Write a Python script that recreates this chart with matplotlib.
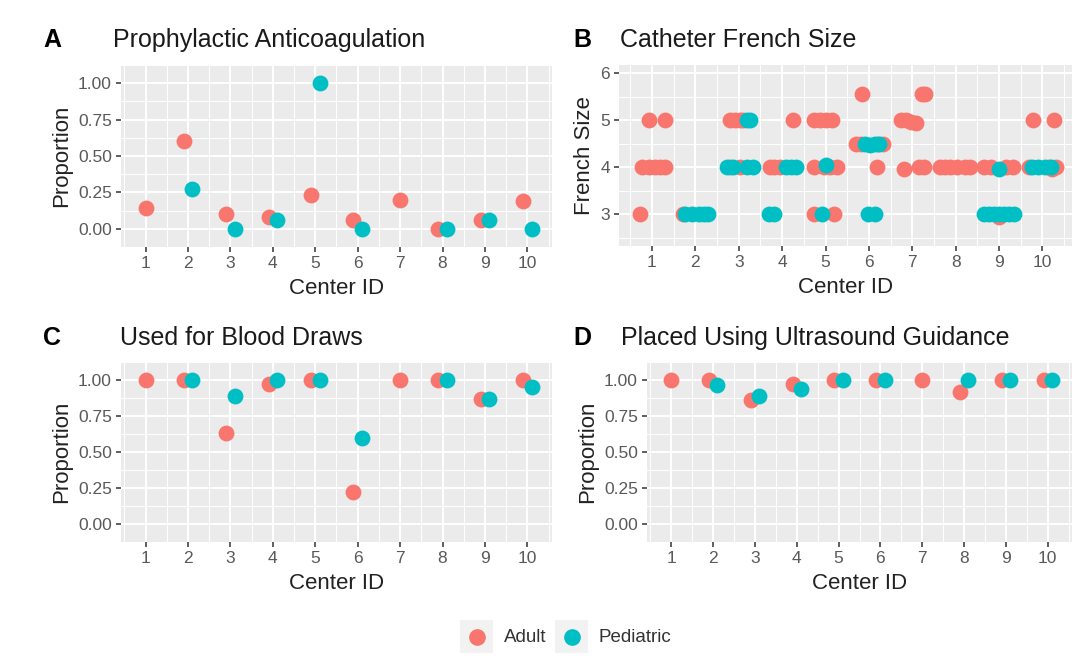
import numpy as np
import matplotlib.pyplot as plt
from matplotlib.patches import Rectangle

plt.rcParams['font.family'] = ['Liberation Sans', 'DejaVu Sans']

centers = [1, 2, 3, 4, 5, 6, 7, 8, 9, 10]
adult_col = '#F8766D'
ped_col = '#00BFC4'

# A: prophylactic anticoagulation (proportion per center, None = no data)
anticoag_adult = [0.14, 0.60, 0.10, 0.08, 0.23, 0.06, 0.20, 0.00, 0.06, 0.19]
anticoag_ped = [None, 0.27, 0.00, 0.06, 1.00, 0.00, None, 0.00, 0.06, 0.00]

# C: used for blood draws
blood_adult = [1.00, 1.00, 0.63, 0.97, 1.00, 0.22, 1.00, 1.00, 0.87, 1.00]
blood_ped = [None, 1.00, 0.89, 1.00, 1.00, 0.60, None, 1.00, 0.87, 0.95]

# D: placed using ultrasound guidance
us_adult = [1.00, 1.00, 0.86, 0.97, 1.00, 1.00, 1.00, 0.92, 1.00, 1.00]
us_ped = [None, 0.965, 0.89, 0.935, 1.00, 1.00, None, 1.00, 1.00, 1.00]

fr_adult_center = [1, 1, 1, 1, 1, 1, 1, 1,
                   2,
                   3, 3, 3, 3, 3, 3,
                   4, 4, 4, 4,
                   5, 5, 5, 5, 5, 5, 5, 5, 5, 5,
                   6, 6, 6, 6, 6, 6,
                   7, 7, 7, 7, 7, 7, 7, 7, 7,
                   8, 8, 8, 8, 8, 8,
                   9, 9, 9, 9, 9,
                   10, 10, 10, 10, 10, 10]
fr_adult_jit = [-0.06, 0.31, -0.23, -0.08, 0.08, 0.19, 0.31, -0.27,
                -0.28,
                -0.21, -0.09, 0.02, 0.10, -0.21, 0.02,
                0.24, -0.29, -0.18, -0.06,
                -0.27, -0.13, 0.00, 0.15, -0.27, -0.04, 0.11, 0.27, -0.27, 0.19,
                -0.15, -0.29, -0.18, 0.21, 0.32, 0.18,
                0.23, 0.30, -0.27, -0.15, -0.04, 0.08, -0.19, 0.15, 0.27,
                -0.36, -0.24, -0.13, 0.02, 0.21, 0.33,
                -0.34, -0.19, 0.15, 0.31, 0.00,
                -0.23, 0.27, -0.30, 0.15, 0.30, 0.22]
fr_adult_size = [5, 5, 4, 4, 4, 4, 4, 3,
                 3,
                 5, 5, 5, 5, 4, 4,
                 5, 4, 4, 4,
                 5, 5, 5, 5, 4, 4, 4, 4, 3, 3,
                 5.55, 4.5, 4.5, 4.5, 4.5, 4,
                 5.55, 5.55, 5, 5, 4.97, 4.95, 3.97, 4, 4,
                 4, 4, 4, 4, 4, 4,
                 4, 4, 4, 4, 2.95,
                 5, 5, 4, 4, 4, 3.97]

fr_ped_center = [2, 2, 2, 2, 2,
                 3, 3, 3, 3, 3, 3,
                 4, 4, 4, 4, 4,
                 5, 5,
                 6, 6, 6, 6, 6, 6,
                 9, 9, 9, 9, 9, 9, 9, 9,
                 10, 10, 10, 10]
fr_ped_jit = [-0.23, -0.08, 0.08, 0.19, 0.28,
              0.18, 0.25, -0.28, -0.13, 0.18, 0.33,
              0.09, 0.21, 0.32, -0.31, -0.18,
              -0.08, 0.00,
              -0.10, 0.02, 0.13, 0.24, -0.02, 0.13,
              0.00, -0.34, -0.23, -0.11, 0.00, 0.11, 0.23, 0.34,
              -0.25, -0.10, 0.05, 0.20]
fr_ped_size = [3, 3, 3, 3, 3,
               5, 5, 4, 4, 4, 4,
               4, 4, 4, 3, 3,
               3, 4.05,
               4.5, 4.47, 4.5, 4.5, 3, 3,
               3.97, 3, 3, 3, 3, 3, 3, 3,
               4, 4, 4, 4]

W, H = 1078, 658
fig = plt.figure(figsize=(W / 100, H / 100), dpi=100)


def px_box(l, t, r, b):
    return [l / W, 1 - b / H, (r - l) / W, (b - t) / H]


def style(ax, xlim, ylim, yticks, ylabels, yminor, ylabel):
    ax.set_facecolor('#EBEBEB')
    for s in ax.spines.values():
        s.set_visible(False)
    ax.set_xlim(*xlim)
    ax.set_ylim(*ylim)
    ax.set_xticks(centers)
    ax.set_xticklabels([str(c) for c in centers])
    ax.set_xticks([c + 0.5 for c in [0] + centers[:-1]] + [10.5], minor=True)
    ax.set_yticks(yticks)
    ax.set_yticklabels(ylabels)
    ax.set_yticks(yminor, minor=True)
    ax.grid(True, which='major', color='white', linewidth=1.4)
    ax.grid(True, which='minor', color='white', linewidth=0.7)
    ax.set_axisbelow(True)
    ax.tick_params(which='major', length=3.5, width=1.1, color='#333333',
                   labelcolor='#595959', labelsize=12.5, pad=3)
    ax.tick_params(which='minor', length=0)
    ax.set_xlabel('Center ID', fontsize=16, labelpad=5, color='#222222')
    ax.set_ylabel(ylabel, fontsize=16, labelpad=4, color='#222222')


def dodge_plot(ax, adult, ped):
    for i, c in enumerate(centers):
        both = adult[i] is not None and ped[i] is not None
        off = 0.1 if both else 0.0
        if adult[i] is not None:
            ax.scatter(c - off, adult[i], s=130, color=adult_col, lw=0, zorder=3)
        if ped[i] is not None:
            ax.scatter(c + off, ped[i], s=130, color=ped_col, lw=0, zorder=3)


prop_ticks = [0, 0.25, 0.5, 0.75, 1.0]
prop_labels = ['0.00', '0.25', '0.50', '0.75', '1.00']
prop_minor = [-0.125 + 0.25 * k for k in range(6)]

axA = fig.add_axes(px_box(121, 65, 552, 247))
style(axA, (0.42, 10.58), (-0.05, 1.05), prop_ticks, prop_labels, prop_minor, 'Proportion')
dodge_plot(axA, anticoag_adult, anticoag_ped)

axB = fig.add_axes(px_box(619, 65, 1072, 246))
style(axB, (0.24, 10.68), (2.325, 6.175), [3, 4, 5, 6], ['3', '4', '5', '6'],
      [2.5, 3.5, 4.5, 5.5], 'French Size')
axB.scatter(np.array(fr_adult_center) + np.array(fr_adult_jit), fr_adult_size,
            s=130, color=adult_col, lw=0, zorder=3)
axB.scatter(np.array(fr_ped_center) + np.array(fr_ped_jit), fr_ped_size,
            s=130, color=ped_col, lw=0, zorder=3)

axC = fig.add_axes(px_box(121, 362, 552, 542))
style(axC, (0.42, 10.58), (-0.05, 1.05), prop_ticks, prop_labels, prop_minor, 'Proportion')
dodge_plot(axC, blood_adult, blood_ped)

axD = fig.add_axes(px_box(647, 362, 1072, 542))
style(axD, (0.42, 10.58), (-0.05, 1.05), prop_ticks, prop_labels, prop_minor, 'Proportion')
dodge_plot(axD, us_adult, us_ped)

# panel tags and titles
tags = [('A', 43, 113, 47, 'Prophylactic Anticoagulation'),
        ('B', 573, 620, 47, 'Catheter French Size'),
        ('C', 43, 120, 345, 'Used for Blood Draws'),
        ('D', 573, 621, 345, 'Placed Using Ultrasound Guidance')]
for tag, tx, ttx, ty, title in tags:
    fig.text(tx / W, 1 - ty / H, tag, fontsize=18, fontweight='bold', va='baseline')
    fig.text(ttx / W, 1 - ty / H, title, fontsize=18, va='baseline', color='#1a1a1a')

# legend at bottom
legend_items = [('Adult', adult_col, 460), ('Pediatric', ped_col, 555)]
for name, col, kx in legend_items:
    fig.patches.append(Rectangle((kx / W, 1 - 653 / H), 33 / W, 33 / H,
                                 transform=fig.transFigure, color='#F2F2F2', lw=0))
    fig.add_artist(plt.Line2D([(kx + 16.5) / W], [1 - 637 / H], marker='o',
                              markersize=11, color=col, lw=0,
                              transform=fig.transFigure))
    fig.text((kx + 44) / W, 1 - 637 / H, name, fontsize=13.5, va='center',
             color='#333333')

fig.savefig('out.png', dpi=100, facecolor='white')
